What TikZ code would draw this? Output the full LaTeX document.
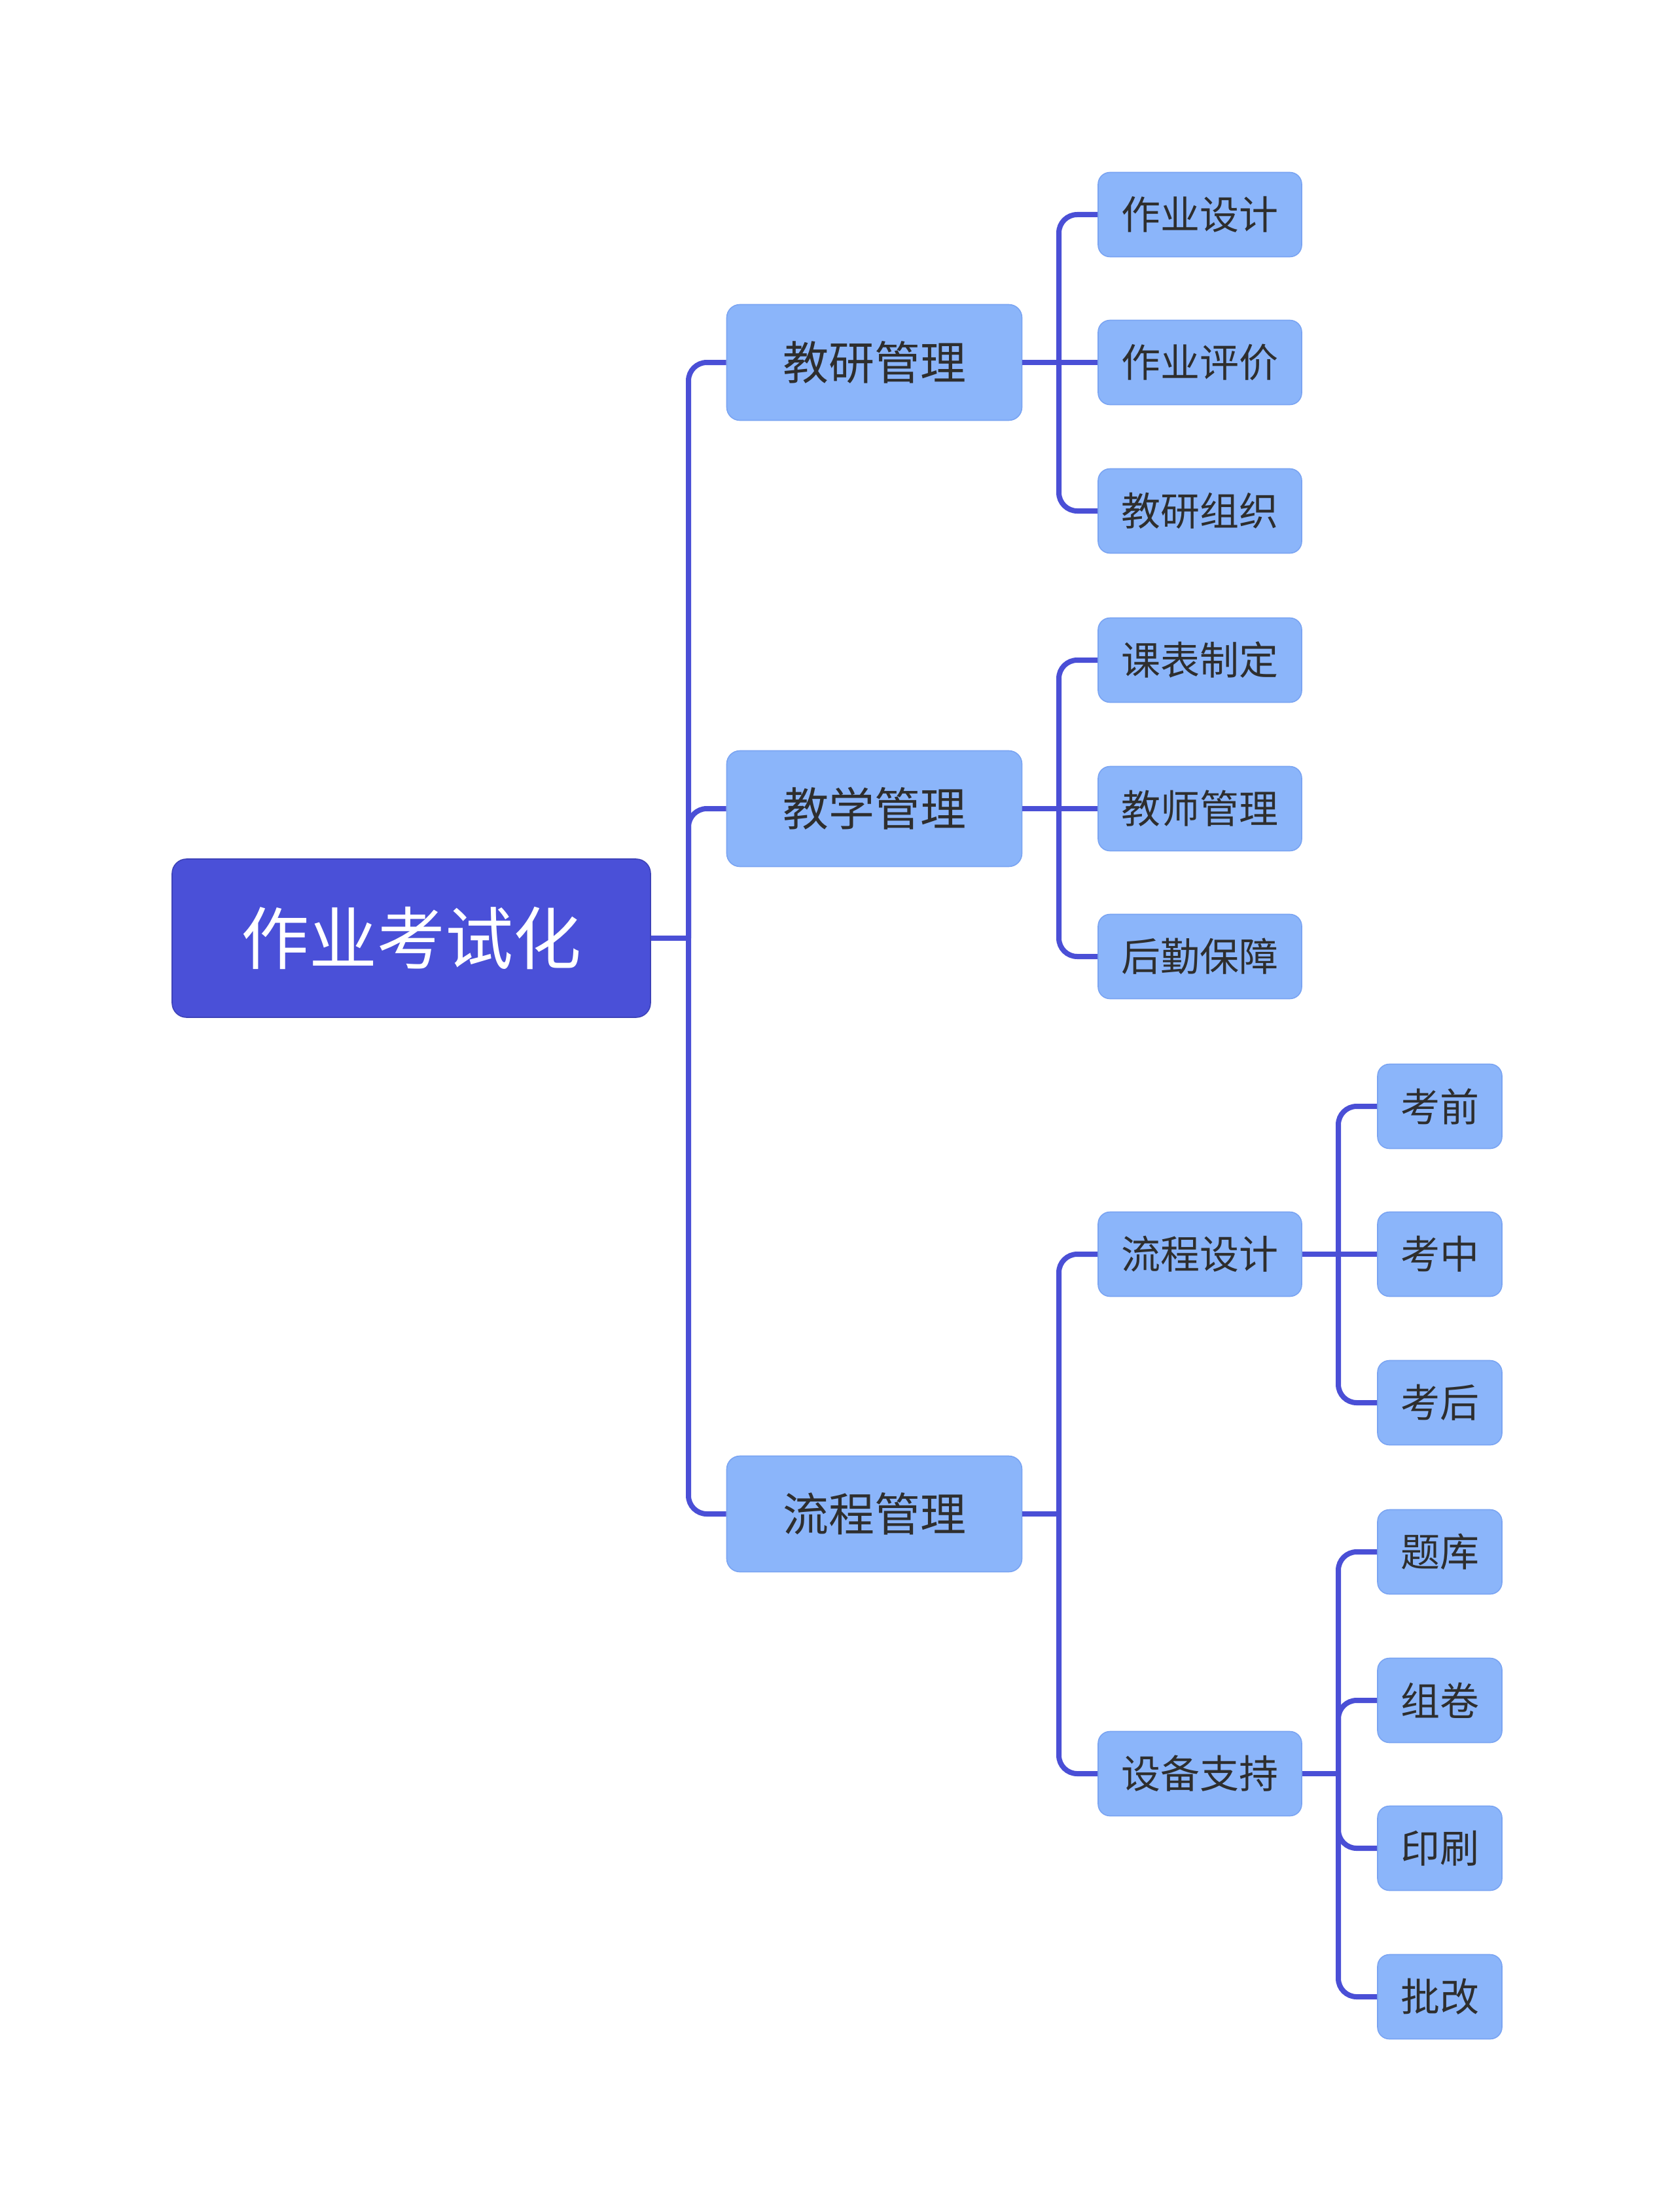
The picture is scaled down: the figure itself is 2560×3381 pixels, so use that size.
\documentclass[tikz,border=0pt]{standalone}
\usepackage{fontspec}
\setmainfont{Noto Sans CJK SC}
\definecolor{rootfill}{HTML}{4A50D8}
\definecolor{rootdraw}{HTML}{3D42B8}
\definecolor{boxfill}{HTML}{8BB5FA}
\definecolor{boxdraw}{HTML}{7AA4F2}
\definecolor{linec}{HTML}{4A4FD6}
\definecolor{txt}{HTML}{2E2E2E}
\tikzset{
  rootbox/.style={draw=rootdraw, line width=0.4pt, fill=rootfill, rounded corners=5.5pt,
    minimum width=182.75pt, minimum height=60.5pt, inner sep=0pt, text=white,
    font=\fontsize{26}{30}\selectfont},
  lvlone/.style={draw=boxdraw, line width=0.4pt, fill=boxfill, rounded corners=5pt,
    minimum width=112.75pt, minimum height=44.25pt, inner sep=0pt, text=txt,
    font=\fontsize{17.5}{20}\selectfont},
  lvltwo/.style={draw=boxdraw, line width=0.4pt, fill=boxfill, rounded corners=4.5pt,
    minimum width=77.75pt, minimum height=32.25pt, inner sep=0pt, text=txt,
    font=\fontsize{15}{18}\selectfont},
  lvlthree/.style={lvltwo, minimum width=47.5pt},
  conn/.style={draw=linec, line width=2pt, rounded corners=7pt},
  straight/.style={draw=linec, line width=2pt},
}
\begin{document}
\begin{tikzpicture}[x=0.25pt, y=-0.25pt]
\useasboundingbox (0,0) rectangle (2560,3381);
% root
\node[rootbox] (root) at (628.5,1434) {作业考试化};
% level one
\node[lvlone] (a) at (1336,554) {教研管理};
\node[lvlone] (b) at (1336,1236) {教学管理};
\node[lvlone] (c) at (1336,2314) {流程管理};
% level two
\node[lvltwo] (a1) at (1833.5,328) {作业设计};
\node[lvltwo] (a2) at (1833.5,554) {作业评价};
\node[lvltwo] (a3) at (1833.5,781) {教研组织};
\node[lvltwo] (b1) at (1833.5,1009) {课表制定};
\node[lvltwo] (b2) at (1833.5,1236) {教师管理};
\node[lvltwo] (b3) at (1833.5,1462) {后勤保障};
\node[lvltwo] (c1) at (1833.5,1917) {流程设计};
\node[lvltwo] (c2) at (1833.5,2711) {设备支持};
% level three
\node[lvlthree] (d1) at (2200,1691) {考前};
\node[lvlthree] (d2) at (2200,1917) {考中};
\node[lvlthree] (d3) at (2200,2144) {考后};
\node[lvlthree] (e1) at (2200,2372) {题库};
\node[lvlthree] (e2) at (2200,2599) {组卷};
\node[lvlthree] (e3) at (2200,2825) {印刷};
\node[lvlthree] (e4) at (2200,3052) {批改};
% junctions
\coordinate (j0) at (1052,1434);
\coordinate (ja) at (1618,554);
\coordinate (jb) at (1618,1236);
\coordinate (jc) at (1618,2314);
\coordinate (jd) at (2045,1917);
\coordinate (je) at (2045,2711);
% connectors
\draw[straight] (root.east) -- (j0);
\foreach \n in {a,b,c} \draw[conn] (j0) |- (\n.west);
\draw[straight] (a.east) -- (a2.west);
\foreach \n in {a1,a3} \draw[conn] (ja) |- (\n.west);
\draw[straight] (b.east) -- (b2.west);
\foreach \n in {b1,b3} \draw[conn] (jb) |- (\n.west);
\draw[straight] (c.east) -- (jc);
\foreach \n in {c1,c2} \draw[conn] (jc) |- (\n.west);
\draw[straight] (c1.east) -- (d2.west);
\foreach \n in {d1,d3} \draw[conn] (jd) |- (\n.west);
\draw[straight] (c2.east) -- (je);
\foreach \n in {e1,e2,e3,e4} \draw[conn] (je) |- (\n.west);
\end{tikzpicture}
\end{document}
